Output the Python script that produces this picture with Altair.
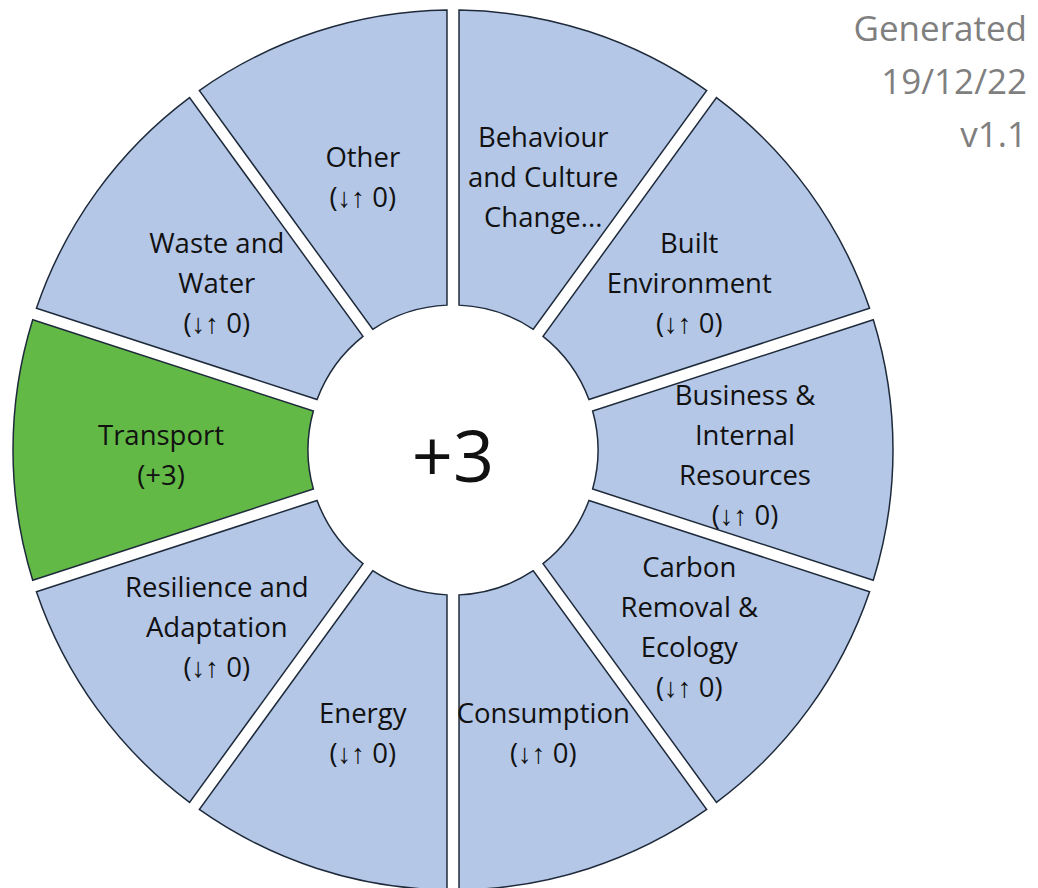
import altair as alt
import pandas as pd

# Segments clockwise from 12 o'clock
categories = [
    "Behaviour and Culture Change", "Built Environment", "Business & Internal Resources",
    "Carbon Removal & Ecology", "Consumption", "Energy", "Resilience and Adaptation",
    "Transport", "Waste and Water", "Other",
]
scores = [0, 0, 0, 0, 0, 0, 0, 3, 0, 0]
labels = [
    ["Behaviour", "and Culture", "Change..."],
    ["Built", "Environment", "(↓↑ 0)"],
    ["Business &", "Internal", "Resources", "(↓↑ 0)"],
    ["Carbon", "Removal &", "Ecology", "(↓↑ 0)"],
    ["Consumption", "(↓↑ 0)"],
    ["Energy", "(↓↑ 0)"],
    ["Resilience and", "Adaptation", "(↓↑ 0)"],
    ["Transport", "(+3)"],
    ["Waste and", "Water", "(↓↑ 0)"],
    ["Other", "(↓↑ 0)"],
]
total_text = "+3"
stamp_lines = ["Generated", "19/12/22", "v1.1"]

BLUE = "#b4c7e7"
GREEN = "#62b946"
FONT = "Open Sans"
CX, CY = 445, 442
LINE_H = 40

df = pd.DataFrame({
    "category": categories,
    "order": list(range(len(categories))),
    "share": [1] * len(categories),
    "score": scores,
    "label": ["\n".join(l) for l in labels],
    "nlines": [len(l) for l in labels],
    "highlight": ["yes" if s > 0 else "no" for s in scores],
})

theta = alt.Theta("share:Q", stack=True, scale=alt.Scale(range=[0, 6.283185307179586]))
order = alt.Order("order:Q", sort="ascending")

base = alt.Chart(df)

arcs = base.mark_arc(
    innerRadius=145, outerRadius=440, padAngle=0.026,
    stroke="#1e2a3a", strokeWidth=1.5,
).encode(
    theta=theta,
    order=order,
    color=alt.Color("highlight:N", scale=alt.Scale(domain=["yes", "no"], range=[GREEN, BLUE]), legend=None),
    x=alt.value(CX), y=alt.value(CY),
)

text_layers = []
for n in sorted(set(len(l) for l in labels)):
    text_layers.append(
        base.mark_text(
            radius=292, font=FONT, fontSize=27.5, lineBreak="\n", lineHeight=LINE_H,
            align="center", baseline="middle", color="#111111",
            dy=-(n - 1) * LINE_H / 2 + 7,
        ).encode(
            theta=theta,
            order=order,
            text="label:N",
            x=alt.value(CX), y=alt.value(CY),
            opacity=alt.condition(f"datum.nlines == {n}", alt.value(1), alt.value(0)),
        )
    )

center = alt.Chart(pd.DataFrame({"t": [total_text]})).mark_text(
    font=FONT, fontSize=72, align="center", baseline="middle", color="#111111",
).encode(text="t:N", x=alt.value(CX), y=alt.value(CY + 10))

stamp_df = pd.DataFrame({"t": stamp_lines, "i": list(range(len(stamp_lines)))})
stamp = alt.Chart(stamp_df).mark_text(
    font=FONT, fontSize=35, align="right", baseline="middle", color="#7f7f7f",
).encode(
    text="t:N",
    x=alt.value(1019),
    y=alt.Y("i:Q", scale=alt.Scale(domain=[0, 2], range=[22, 128], nice=False, zero=False), axis=None),
)

chart = alt.layer(arcs, *text_layers, center, stamp).properties(
    width=1022, height=880, autosize=alt.AutoSizeParams(type="none"), padding=0,
).configure_view(stroke=None)

chart.save("out.html", embed_options={"renderer": "svg", "actions": False})
